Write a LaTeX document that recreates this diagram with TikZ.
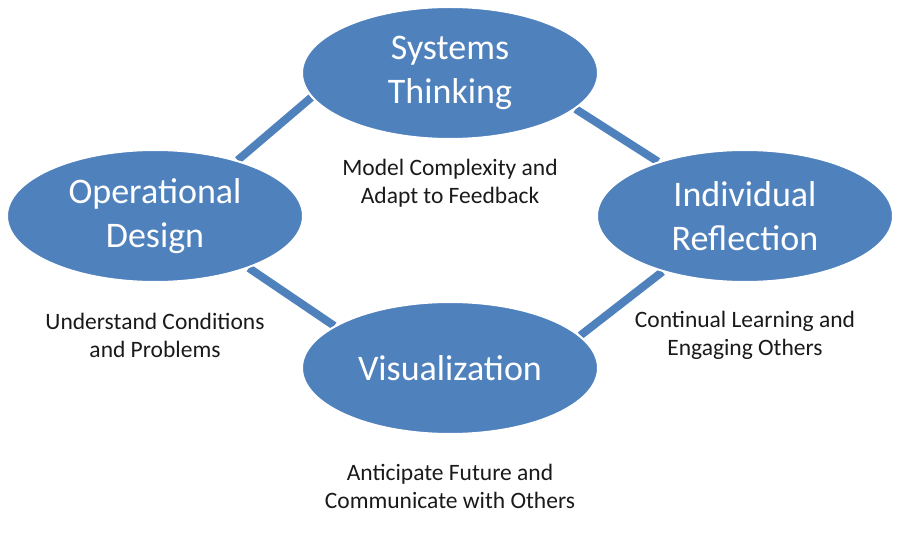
\documentclass[tikz,border=0pt]{standalone}
\usepackage{fontspec}
\setmainfont{Carlito}
\usetikzlibrary{shapes.geometric,backgrounds}
\definecolor{ellblue}{HTML}{4F81BD}
\definecolor{labelink}{HTML}{1A1A1A}
\tikzset{
	bubble/.style={ellipse, fill=ellblue, draw=white, line width=2pt, minimum width=296pt, minimum height=132pt, inner sep=0pt, align=center, text=white, font=\fontsize{36}{44}\selectfont},
	caption/.style={align=center, text=labelink, font=\fontsize{23.5}{28}\selectfont},
	link/.style={ellblue, line width=8pt}
}
\begin{document}
\begin{tikzpicture}[x=1pt,y=-1pt]
	    \useasboundingbox (0,0) rectangle (900,540);
	    \node[bubble] (sys) at (450,73) {Systems\\Thinking};
	    \node[bubble] (op) at (155,216) {Operational\\Design};
	    \node[bubble] (ind) at (745,216) {Individual\\Reflection};
	    \node[bubble] (vis) at (450,368) {Visualization};
	    \node[caption] (sysl) at (450,183) {Model Complexity and\\Adapt to Feedback};
	    \node[caption] (opl) at (155,335) {Understand Conditions\\and Problems};
	    \node[caption] (indl) at (745,335) {Continual Learning and\\Engaging Others};
	    \node[caption] (visl) at (450,486) {Anticipate Future and\\Communicate with Others};
	    \begin{scope}[on background layer]
	    \draw[link] (op.34) -- (sys.190);
	    \draw[link] (sys.-16) -- (ind.148);
	    \draw[link] (op.-29) -- (vis.160);
	    \draw[link] (ind.214) -- (vis.14);
	    \end{scope}
	\end{tikzpicture}
\end{document}
